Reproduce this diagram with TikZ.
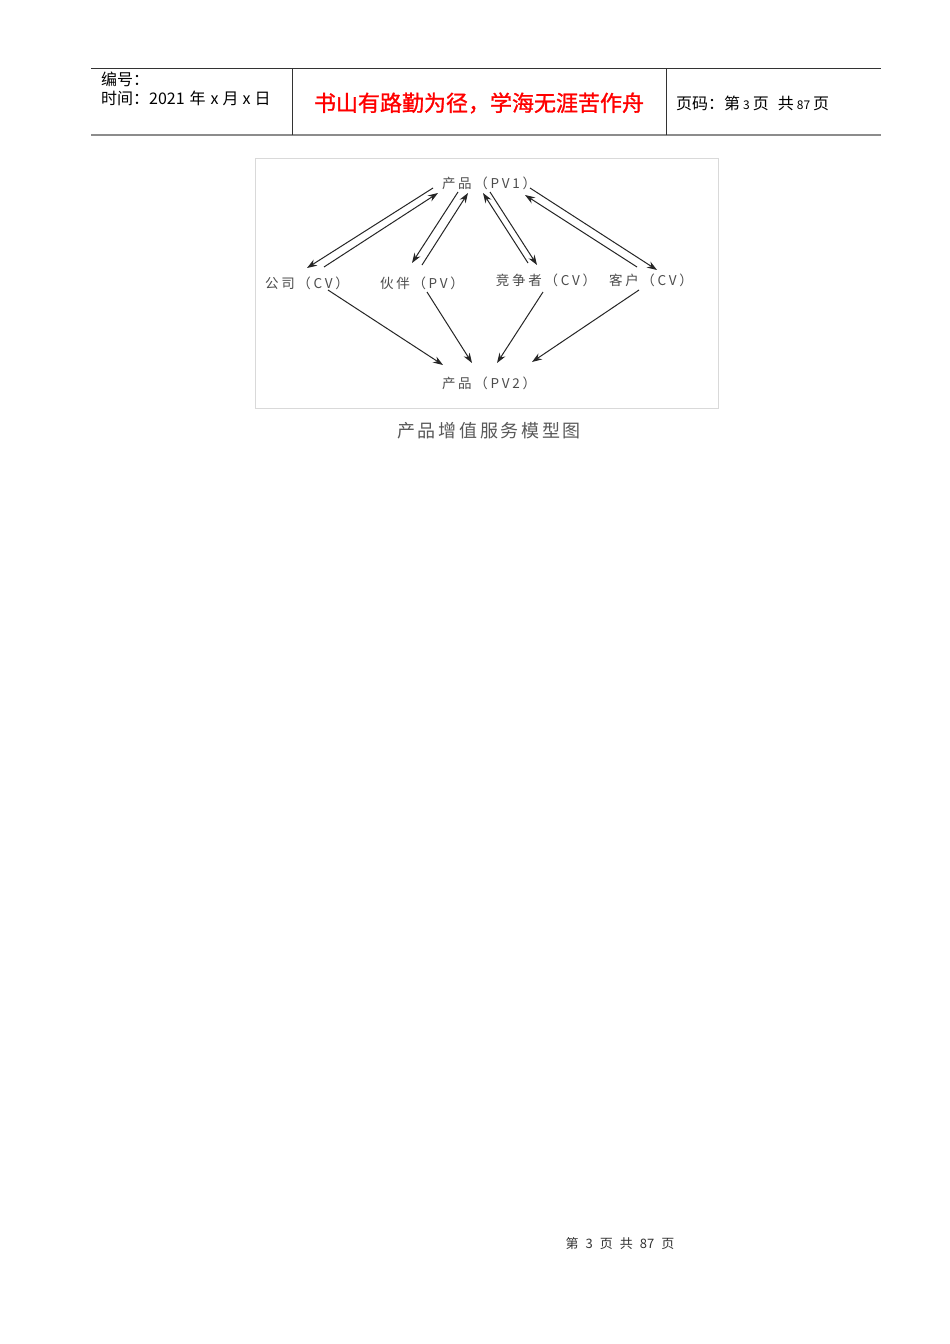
\documentclass[tikz,border=0pt]{standalone}
\usepackage{fontspec}
\setmainfont{Noto Sans CJK SC}
\usetikzlibrary{arrows.meta,calc}
\begin{document}
\begin{tikzpicture}[x=1pt,y=-1pt,
  hdr/.style={anchor=west, inner sep=0pt, font=\fontsize{16}{16}\selectfont, text=black},
  lbl/.style={inner sep=0pt, font=\fontsize{13.5}{13.5}\selectfont\addfontfeature{LetterSpace=20}, text=black!70},
  arr/.style={-{Stealth[length=10pt,width=7pt]}, line width=1pt, draw=black!85},
  rule/.style={line width=0.8pt, draw=black!80}]
\useasboundingbox[fill=white] (0,0) rectangle (950,1344);
% header
\draw[rule] (91,68) -- (881,68);
\draw[line width=1.6pt, draw=black!45] (91,135) -- (881,135);
\draw[rule] (292,68) -- (292,135);
\draw[rule] (666,68) -- (666,135);
\node[hdr] (bh) at (101,79) {编号：};
\node[hdr] (sj) at (101,98) {时间：2021\hspace{5pt}年\hspace{5pt}x\hspace{4pt}月\hspace{4pt}x\hspace{4pt}日};
\node[inner sep=0pt, font=\fontsize{22}{22}\selectfont\addfontfeature{FakeBold=1.2}, text=red] (motto) at (479,103) {书山有路勤为径，学海无涯苦作舟};
\node[hdr] (ym) at (676,103) {页码：第\hspace{3pt}{\fontsize{12}{12}\selectfont 3}\hspace{3pt}页\hspace{9pt}共\hspace{3pt}{\fontsize{12}{12}\selectfont 87}\hspace{3pt}页};
% diagram frame
\draw[line width=0.8pt, draw=black!15] (255,158) rectangle (718,408);
% nodes
\node[lbl] (pv1) at (489,183) {产品（PV1）};
\node[lbl] (gs) at (307,283) {公司（CV）};
\node[lbl] (hb) at (422,283) {伙伴（PV）};
\node[lbl] (jz) at (546,280) {竞争者（CV）};
\node[lbl] (kh) at (651,280) {客户（CV）};
\node[lbl] (pv2) at (489,383) {产品（PV2）};
\node[inner sep=0pt, font=\fontsize{18}{18}\selectfont\addfontfeature{LetterSpace=15}, text=black!65] (cap) at (489,431) {产品增值服务模型图};
% upper arrows
\draw[arr] ($(pv1)+(-56,5)$) -- ($(gs)+(0,-15)$);
\draw[arr] ($(gs)+(17,-16)$) -- ($(pv1)+(-51,10)$);
\draw[arr] ($(pv1)+(-31,9)$) -- ($(hb)+(-10,-20)$);
\draw[arr] ($(hb)+(0,-18)$) -- ($(pv1)+(-21,10)$);
\draw[arr] ($(jz)+(-18,-17)$) -- ($(pv1)+(-6,10)$);
\draw[arr] ($(pv1)+(1,9)$) -- ($(jz)+(-9,-15)$);
\draw[arr] ($(pv1)+(41,5)$) -- ($(kh)+(6,-10)$);
\draw[arr] ($(kh)+(-14,-13)$) -- ($(pv1)+(36,12)$);
% lower arrows
\draw[arr] ($(gs)+(21,7)$) -- ($(pv2)+(-46,-18)$);
\draw[arr] ($(hb)+(5,9)$) -- ($(pv2)+(-17,-20)$);
\draw[arr] ($(jz)+(-3,12)$) -- ($(pv2)+(8,-20)$);
\draw[arr] ($(kh)+(-12,10)$) -- ($(pv2)+(43,-21)$);
% footer
\node[inner sep=0pt, font=\fontsize{13}{13}\selectfont, text=black!80] (foot) at (620,1244) {第\hspace{7pt}3\hspace{7pt}页\hspace{7pt}共\hspace{7pt}87\hspace{7pt}页};
\end{tikzpicture}
\end{document}
